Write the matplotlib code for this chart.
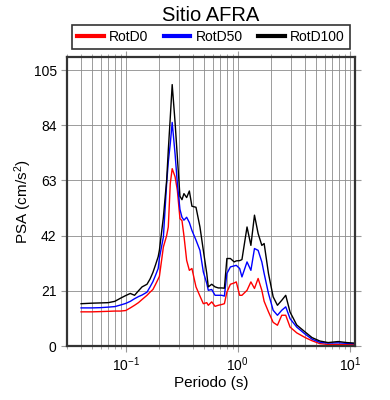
import matplotlib
matplotlib.use("Agg")
import matplotlib.pyplot as plt
from matplotlib.ticker import LogLocator, FixedLocator, NullFormatter

plt.rcParams["font.family"] = ["Liberation Sans", "DejaVu Sans"]
plt.rcParams["mathtext.default"] = "regular"

# periodos (s)
periods = [0.04, 0.05, 0.06, 0.07, 0.08, 0.09, 0.10, 0.11, 0.12, 0.13,
           0.14, 0.155, 0.165, 0.175, 0.185, 0.195, 0.20, 0.217, 0.232, 0.24,
           0.25, 0.26, 0.276, 0.289, 0.305, 0.318, 0.331, 0.35, 0.37, 0.39,
           0.424, 0.46, 0.493, 0.529, 0.546, 0.586, 0.627, 0.671, 0.72, 0.76,
           0.80, 0.86, 0.93, 0.97, 1.04, 1.09, 1.21, 1.31, 1.41, 1.52,
           1.64, 1.72, 1.88, 2.07, 2.26, 2.47, 2.68, 2.93, 3.36, 4.0,
           4.6, 5.4, 6.4, 7.9, 9.4, 11.0]

rotd0 = [13.0, 13.0, 13.1, 13.2, 13.3, 13.3, 13.5, 14.5, 15.5, 16.5,
         17.7, 19.3, 20.5, 21.5, 23.5, 25.5, 26.5, 37.7, 42.0, 45.3,
         61.8, 67.5, 64.4, 59.3, 48.5, 47.7, 42.0, 32.6, 28.8, 29.5,
         22.5, 19.0, 16.1, 16.5, 15.5, 16.8, 15.1, 15.5, 15.8, 16.1,
         20.5, 23.5, 24.0, 24.4, 19.3, 19.3, 21.2, 24.4, 21.9, 25.7,
         21.2, 17.0, 13.0, 9.0, 7.9, 11.7, 11.7, 7.2, 5.0, 3.2,
         2.0, 0.9, 0.6, 0.6, 0.5, 0.5]

rotd50 = [14.5, 14.5, 14.6, 14.8, 15.0, 15.6, 16.2, 17.0, 18.0, 18.8,
          19.4, 20.5, 22.5, 24.5, 27.0, 29.5, 33.5, 41.5, 61.8, 70.0,
          77.0, 85.1, 73.0, 62.0, 52.0, 49.0, 47.9, 49.0, 47.0, 44.0,
          40.3, 36.4, 28.2, 23.8, 21.2, 21.5, 19.3, 19.3, 19.3, 19.0,
          27.6, 30.1, 30.5, 30.7, 29.5, 26.3, 32.0, 28.8, 37.1, 36.4,
          32.0, 27.6, 20.0, 13.6, 11.7, 13.6, 14.9, 10.4, 7.2, 4.5,
          2.6, 1.4, 1.1, 1.2, 1.0, 0.9]

rotd100 = [16.1, 16.3, 16.4, 16.5, 17.0, 18.2, 19.2, 20.0, 19.3, 21.0,
           22.5, 23.5, 25.5, 28.0, 31.0, 34.0, 36.5, 49.0, 63.0, 74.5,
           87.0, 99.5, 85.0, 72.0, 57.0, 55.7, 58.0, 56.5, 59.0, 53.2,
           52.8, 45.3, 36.4, 27.6, 22.5, 23.5, 22.5, 22.1, 22.1, 22.0,
           33.3, 33.3, 32.0, 32.4, 32.5, 32.9, 45.3, 38.3, 49.8, 42.8,
           38.3, 39.0, 27.6, 18.7, 15.5, 17.4, 19.3, 12.9, 8.0, 5.3,
           3.2, 1.9, 1.3, 1.7, 1.3, 1.1]

series = [("RotD0", rotd0, "#ff0000"),
          ("RotD50", rotd50, "#0000ff"),
          ("RotD100", rotd100, "#000000")]

y_ticks = [0, 21, 42, 63, 84, 105]

fig = plt.figure(figsize=(3.9, 4.0), dpi=100)
ax = fig.add_axes([0.172, 0.135, 0.738, 0.7225])

for name, vals, color in series:
    ax.plot(periods, vals, color=color, lw=1.0, label=name)

ax.set_xscale("log")
ax.set_xlim(0.03, 11.1)
ax.set_ylim(0, 110)
ax.yaxis.set_major_locator(FixedLocator(y_ticks))
ax.xaxis.set_major_locator(LogLocator(base=10))
ax.xaxis.set_minor_locator(LogLocator(base=10, subs=range(2, 10)))
ax.xaxis.set_minor_formatter(NullFormatter())

ax.grid(True, which="both", axis="x", color="#8c8c8c", lw=0.6)
ax.grid(True, which="major", axis="y", color="#8c8c8c", lw=0.6)

ax.tick_params(which="both", direction="out", color="#999999",
               top=True, right=True, labelsize=10)
ax.tick_params(which="major", length=4)
ax.tick_params(which="minor", length=2.5)
ax.tick_params(axis="x", pad=2.5)
for sp in ax.spines.values():
    sp.set_color("#333333")
    sp.set_linewidth(1.6)

ax.set_xlabel("Periodo (s)", fontsize=11, labelpad=2)
ax.set_ylabel("PSA (cm/s$^2$)", fontsize=11, labelpad=0)
fig.text(0.541, 0.962, "Sitio AFRA", fontsize=14.5, ha="center", va="center")

leg = ax.legend(loc="lower center", bbox_to_anchor=(0.5, 1.027), ncol=3,
                frameon=True, fancybox=False, edgecolor="black",
                fontsize=10, handlelength=1.9, columnspacing=1.1,
                borderpad=0.35, handletextpad=0.4, borderaxespad=0)
leg.get_frame().set_linewidth(1.2)
for line in leg.get_lines():
    line.set_linewidth(3)

fig.savefig("out.png", dpi=100)
